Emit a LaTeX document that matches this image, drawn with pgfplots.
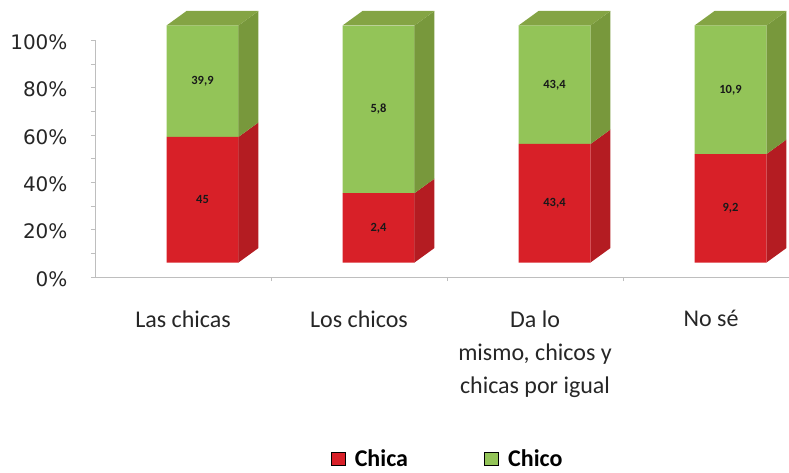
\documentclass[border=0pt]{standalone}
\usepackage{fontspec}
\setmainfont{Carlito}
\newfontfamily\tickfont{DejaVu Sans}
\usepackage{pgfplots}
\usepackage{pgfplotstable}
\pgfplotsset{compat=1.18}
\definecolor{redF}{RGB}{216,32,40}
\definecolor{redS}{RGB}{180,28,34}
\definecolor{greenF}{RGB}{147,196,88}
\definecolor{greenS}{RGB}{120,152,60}
\definecolor{greenT}{RGB}{132,164,68}
\definecolor{axgray}{RGB}{190,190,190}

\pgfplotstableread{
x chica chico chicaL chicoL
1 45   39.9 45   39,9
2 2.4  5.8  2,4  5,8
3 43.4 43.4 43,4 43,4
4 9.2  10.9 9,2  10,9
}\datatable

\begin{document}
\begin{tikzpicture}
\path[use as bounding box] (0pt,0pt) rectangle (789pt,472pt);
% frame axis
\begin{axis}[
  at={(95pt,195pt)}, anchor=south west,
  x=176pt, y=2.37pt,
  xmin=0.5, xmax=4.443, ymin=0, ymax=100,
  clip=false,
  axis x line=bottom, axis y line=left,
  axis line style={draw=axgray, -},
  ytick={0,20,...,100},
  minor ytick={10,30,50,70,90},
  xtick={1,2,3,4},
  minor xtick={1.5,2.5,3.5},
  xticklabels={Las chicas, Los chicos, {Da lo\\mismo, chicos y\\chicas por igual}, No sé},
  tick align=outside,
  major tick length=4pt, minor tick length=4pt,
  tick style={draw=axgray, thin},
  major x tick style={draw=none},
  yticklabel={\pgfmathprintnumber[assume math mode=true]{\tick}\%},
  yticklabel style={font=\tickfont\fontsize{20}{20}\selectfont, text=black!85, anchor=east, xshift=-20pt, yshift=-2pt},
  xticklabel style={font=\fontsize{24}{33}\selectfont, align=center, anchor=north, yshift=-26pt, text=black!85},
  legend style={at={(0.508,-0.768)}, anchor=center, draw=none, fill=none,
     font=\bfseries\fontsize{24}{24}\selectfont,
     /tikz/every even column/.append style={column sep=74pt}},
  legend columns=2,
  legend image code/.code={\fill[#1] (0pt,-6.5pt) rectangle (14pt,6.5pt); \path[draw=none,fill=none] (0pt,0pt) -- (22pt,0pt);},
]
\addlegendimage{fill=redF}
\addlegendentry{Chica}
\addlegendimage{fill=greenF}
\addlegendentry{Chico}
\end{axis}
% front faces
\begin{axis}[
  at={(114.5pt,209.5pt)}, anchor=south west,
  x=176pt, y=2.37pt,
  xmin=0.5, xmax=4.443, ymin=0, ymax=100,
  clip=false, hide axis,
  ybar stacked, bar width=72pt,
]
\addplot[fill=redF, draw=none] table[x=x, y expr={\thisrow{chica}/(\thisrow{chica}+\thisrow{chico})*100}]{\datatable};
\addplot[fill=greenF, draw=none] table[x=x, y expr={\thisrow{chico}/(\thisrow{chica}+\thisrow{chico})*100}]{\datatable};
\end{axis}
% depth faces and labels
\begin{axis}[
  at={(114.5pt,209.5pt)}, anchor=south west,
  x=176pt, y=2.37pt,
  xmin=0.5, xmax=4.443, ymin=0, ymax=100,
  clip=false, hide axis,
]
% bar 1 (p = 53.00)
\addplot[fill=redS, draw=none] coordinates {(1.2045,0) (1.3181,6.12) (1.3181,59.12) (1.2045,53.00)};
\addplot[fill=greenS, draw=none] coordinates {(1.2045,53.00) (1.3181,59.12) (1.3181,106.12) (1.2045,100)};
\addplot[fill=greenT, draw=none] coordinates {(0.7955,100) (0.9091,106.12) (1.3181,106.12) (1.2045,100)};
% bar 2 (p = 29.27)
\addplot[fill=redS, draw=none] coordinates {(2.2045,0) (2.3181,6.12) (2.3181,35.39) (2.2045,29.27)};
\addplot[fill=greenS, draw=none] coordinates {(2.2045,29.27) (2.3181,35.39) (2.3181,106.12) (2.2045,100)};
\addplot[fill=greenT, draw=none] coordinates {(1.7955,100) (1.9091,106.12) (2.3181,106.12) (2.2045,100)};
% bar 3 (p = 50.00)
\addplot[fill=redS, draw=none] coordinates {(3.2045,0) (3.3181,6.12) (3.3181,56.12) (3.2045,50.00)};
\addplot[fill=greenS, draw=none] coordinates {(3.2045,50.00) (3.3181,56.12) (3.3181,106.12) (3.2045,100)};
\addplot[fill=greenT, draw=none] coordinates {(2.7955,100) (2.9091,106.12) (3.3181,106.12) (3.2045,100)};
% bar 4 (p = 45.77)
\addplot[fill=redS, draw=none] coordinates {(4.2045,0) (4.3181,6.12) (4.3181,51.89) (4.2045,45.77)};
\addplot[fill=greenS, draw=none] coordinates {(4.2045,45.77) (4.3181,51.89) (4.3181,106.12) (4.2045,100)};
\addplot[fill=greenT, draw=none] coordinates {(3.7955,100) (3.9091,106.12) (4.3181,106.12) (4.2045,100)};
% value labels
\addplot[draw=none, mark=none, nodes near coords, point meta=explicit symbolic,
  every node near coord/.append style={anchor=center, font=\bfseries\fontsize{12.5}{12.5}\selectfont, text=black!90}]
  table[x=x, y expr={\thisrow{chica}/(\thisrow{chica}+\thisrow{chico})*50}, meta=chicaL]{\datatable};
\addplot[draw=none, mark=none, nodes near coords, point meta=explicit symbolic,
  every node near coord/.append style={anchor=center, font=\bfseries\fontsize{12.5}{12.5}\selectfont, text=black!90}]
  table[x=x, y expr={50+\thisrow{chica}/(\thisrow{chica}+\thisrow{chico})*50}, meta=chicoL]{\datatable};
\end{axis}
\end{tikzpicture}
\end{document}
